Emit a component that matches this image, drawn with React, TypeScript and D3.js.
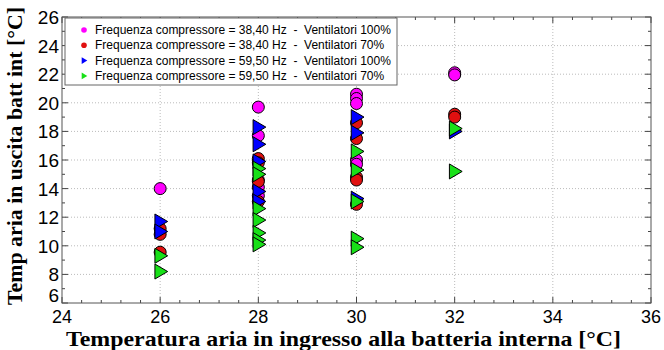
import * as d3 from "d3";
import { useEffect, useRef } from "react";

// data: [inlet temp, outlet temp]
const pinkPts: [number, number][] = [
  [26, 14.0],
  [28, 19.7], [28, 17.7], [28, 14.1], [28, 13.5],
  [30, 20.6], [30, 20.3], [30, 19.95], [30, 16.0], [30, 15.7],
  [32, 22.1], [32, 21.95],
];
const redPts: [number, number][] = [
  [26, 11.2], [26, 10.8], [26, 9.55],
  [28, 16.1], [28, 15.8], [28, 14.6], [28, 14.5], [28, 13.1],
  [30, 18.6], [30, 17.5], [30, 14.8], [30, 14.6], [30, 12.9],
  [32, 19.2], [32, 19.0],
];
const bluePts: [number, number][] = [
  [26, 11.7], [26, 11.0],
  [28, 18.3], [28, 17.1], [28, 15.9], [28, 13.8], [28, 13.1],
  [30, 19.0], [30, 17.9], [30, 13.3],
  [32, 18.0],
];
const greenPts: [number, number][] = [
  [26, 9.3], [26, 8.2],
  [28, 15.4], [28, 15.0], [28, 12.6], [28, 11.8], [28, 10.9], [28, 10.4], [28, 10.1],
  [30, 16.6], [30, 15.3], [30, 13.1], [30, 10.5], [30, 9.9],
  [32, 18.2], [32, 15.2],
];

const seriesNames = [
  "Frequenza compressore = 38,40 Hz  -  Ventilatori 100%",
  "Frequenza compressore = 38,40 Hz  -  Ventilatori 70%",
  "Frequenza compressore = 59,50 Hz  -  Ventilatori 100%",
  "Frequenza compressore = 59,50 Hz  -  Ventilatori 70%",
];
const seriesColors = ["#ff00ff", "#e01010", "#0000ff", "#18e018"];
const seriesShapes = ["circle", "circle", "tri", "tri"];

const xTicks = [24, 26, 28, 30, 32, 34, 36];
const yTicks = [6, 8, 10, 12, 14, 16, 18, 20, 22, 24, 26];

export default function App() {
  const ref = useRef<SVGSVGElement>(null);

  useEffect(() => {
    const svg = d3.select(ref.current);
    svg.selectAll("*").remove();

    const left = 62, right = 651, top = 17, bottom = 303;
    const x = d3.scaleLinear().domain([24, 36]).range([left, right]);
    const y = d3.scaleLinear().domain([6, 26]).range([bottom, top]);
    const font = "Liberation Sans, Arial, sans-serif";
    const serif = "Liberation Serif, Times New Roman, serif";

    svg.append("rect").attr("width", 664).attr("height", 350).attr("fill", "#fff");

    // dotted grid
    const grid = svg.append("g").attr("stroke", "#bbb").attr("stroke-dasharray", "1,2");
    xTicks.slice(1, -1).forEach((t) =>
      grid.append("line").attr("x1", x(t)).attr("x2", x(t)).attr("y1", top).attr("y2", bottom)
    );
    yTicks.slice(1, -1).forEach((t) =>
      grid.append("line").attr("y1", y(t)).attr("y2", y(t)).attr("x1", left).attr("x2", right)
    );

    // ticks inward on all sides
    const tk = svg.append("g").attr("stroke", "#444").attr("stroke-width", 1);
    d3.range(24, 36.01, 0.4).forEach((t) => {
      const major = Math.abs(t - Math.round(t)) < 0.01 && Math.round(t) % 2 === 0;
      const len = major ? 6 : 3;
      tk.append("line").attr("x1", x(t)).attr("x2", x(t)).attr("y1", bottom).attr("y2", bottom - len);
      tk.append("line").attr("x1", x(t)).attr("x2", x(t)).attr("y1", top).attr("y2", top + len);
    });
    d3.range(6, 26.01, 1).forEach((t) => {
      const len = t % 2 === 0 ? 6 : 3;
      tk.append("line").attr("y1", y(t)).attr("y2", y(t)).attr("x1", left).attr("x2", left + len);
      tk.append("line").attr("y1", y(t)).attr("y2", y(t)).attr("x1", right).attr("x2", right - len);
    });

    svg.append("rect")
      .attr("x", left).attr("y", top)
      .attr("width", right - left).attr("height", bottom - top)
      .attr("fill", "none").attr("stroke", "#555");

    // tick labels
    svg.append("g").selectAll("text").data(xTicks).join("text")
      .attr("x", (d) => x(d)).attr("y", 323)
      .attr("text-anchor", "middle")
      .attr("font-family", font).attr("font-size", 18)
      .text((d) => d);
    svg.append("g").selectAll("text").data(yTicks).join("text")
      .attr("x", left - 3).attr("y", (d) => y(d) + (d === 6 ? -1 : 7))
      .attr("text-anchor", "end")
      .attr("font-family", font).attr("font-size", 19)
      .text((d) => d);

    // axis titles
    svg.append("text")
      .attr("x", 66).attr("y", 346)
      .attr("font-family", serif)
      .attr("font-weight", "bold").attr("font-size", 21)
      .attr("textLength", 555).attr("lengthAdjust", "spacingAndGlyphs")
      .text("Temperatura aria in ingresso alla batteria interna [°C]");
    svg.append("text")
      .attr("transform", `translate(22,305) rotate(-90)`)
      .attr("font-family", serif)
      .attr("font-weight", "bold").attr("font-size", 21)
      .attr("textLength", 298).attr("lengthAdjust", "spacingAndGlyphs")
      .text("Temp aria in uscita batt int [°C]");

    const tri = (s: number) => `M${-0.7 * s},${-s} L${-0.7 * s},${s} L${s},0 Z`;

    const allSeries = [pinkPts, redPts, bluePts, greenPts];
    allSeries.forEach((pts, i) => {
      const g = svg.append("g").attr("fill", seriesColors[i]).attr("stroke", "#000").attr("stroke-width", 1);
      if (seriesShapes[i] === "circle") {
        g.selectAll("circle").data(pts).join("circle")
          .attr("cx", (d) => x(d[0])).attr("cy", (d) => y(d[1])).attr("r", 6);
      } else {
        g.selectAll("path").data(pts).join("path")
          .attr("transform", (d) => `translate(${x(d[0])},${y(d[1])})`)
          .attr("d", tri(7.5));
      }
    });

    // legend
    const lg = svg.append("g");
    lg.append("rect")
      .attr("x", 65).attr("y", 18).attr("width", 332).attr("height", 67)
      .attr("fill", "#fff").attr("stroke", "#666");
    seriesNames.forEach((name, i) => {
      const cy = 30 + i * 15.3;
      if (seriesShapes[i] === "circle") {
        lg.append("circle").attr("cx", 84).attr("cy", cy).attr("r", 2.8).attr("fill", seriesColors[i]);
      } else {
        lg.append("path").attr("transform", `translate(84,${cy})`).attr("d", tri(3.3)).attr("fill", seriesColors[i]);
      }
      lg.append("text")
        .attr("x", 95).attr("y", cy + 4)
        .attr("font-family", font).attr("font-size", 12)
        .style("white-space", "pre")
        .text(name);
    });
  }, []);

  return (
    <div style={{ position: "fixed", left: 0, top: 0 }}>
      <svg ref={ref} width={664} height={350} />
    </div>
  );
}
